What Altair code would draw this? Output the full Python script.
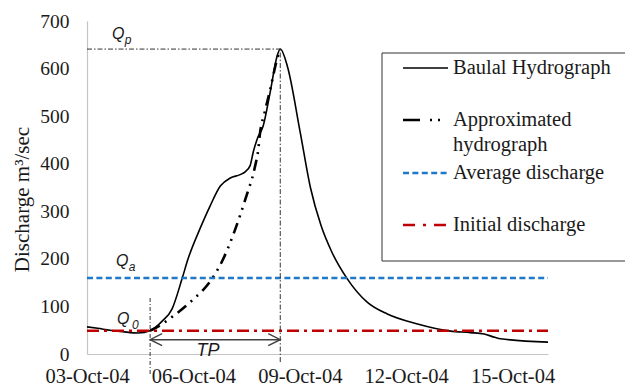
import altair as alt
import pandas as pd

# ---------------- data ----------------
obs_day = [0.0, 0.3, 0.65, 1.0, 1.44, 1.78, 2.12, 2.4, 2.68, 2.85, 3.19, 3.47, 3.76,
           4.04, 4.32, 4.46, 4.6, 4.69, 4.8, 4.97, 5.17, 5.36, 5.45, 5.65, 6.01, 6.3,
           6.6, 6.9, 7.34, 7.9, 8.47, 9.32, 10.25, 10.81, 11.2, 11.5, 11.66, 13.0]
obs_q = [57, 54, 50, 47, 44, 49, 69, 95, 158, 200, 264, 311, 353,
         370, 377, 383, 396, 425, 452, 480, 552, 626, 641, 605, 467, 350,
         270, 215, 158, 109, 84, 63, 48, 45, 42, 35, 32, 25]

apx_day = [1.78, 2.12, 2.4, 2.91, 3.56, 3.81, 4.12, 4.32, 4.55, 4.66, 4.74, 4.83,
           4.88, 5.0, 5.17, 5.36, 5.45]
apx_q = [49, 63, 78, 109, 162, 195, 250, 292, 345, 370, 395, 430,
         465, 505, 557, 620, 641]

avg_q = 160          # average discharge Qa
init_q = 49          # initial discharge Q0
peak_day = 5.45      # time of peak
peak_q = 641         # peak discharge Qp
tp_start = 1.78      # start of rising limb
x_max = 13

tick_days = [0, 3, 6, 9, 12]
tick_labels = ["03-Oct-04", "06-Oct-04", "09-Oct-04", "12-Oct-04", "15-Oct-04"]
y_ticks = [0, 100, 200, 300, 400, 500, 600, 700]

legend_names = ["Baulal Hydrograph", "Approximated\nhydrograph",
                "Average discharge", "Initial discharge"]

# ---------------- style ----------------
SERIF = "Liberation Serif"
SANS = "Liberation Sans"
TXT = "#1a1a1a"
BLUE = "#1f78c8"
RED = "#c00000"
AXC = "#c4c4c4"

label_expr = ""
for d, l in zip(tick_days, tick_labels):
    label_expr += f"datum.value == {d} ? '{l}' : "
label_expr += "''"

xs = alt.Scale(domain=[0, x_max], nice=False, zero=False)
ys = alt.Scale(domain=[0, 700], nice=False, zero=False)

x_axis = alt.Axis(values=tick_days, labelExpr=label_expr, labelFont=SERIF,
                  labelFontSize=20.5, labelColor=TXT, labelPadding=12, ticks=False,
                  tickSize=0, domainColor=AXC, domainWidth=1.2, grid=False,
                  labelFlush=False, labelOverlap=False)
y_axis = alt.Axis(values=y_ticks, title="Discharge m\u00b3/sec", labelFont=SERIF,
                  labelFontSize=19.5, labelColor=TXT, labelPadding=18, ticks=False,
                  tickSize=0, domainColor=AXC, domainWidth=1.2, grid=False,
                  titleFont=SERIF, titleFontSize=21, titleFontWeight="normal",
                  titleColor=TXT, titleX=-55, titleY=178)


def X(f="day"):
    return alt.X(f"{f}:Q", scale=xs, axis=x_axis, title=None)


def Y(f="q"):
    return alt.Y(f"{f}:Q", scale=ys, axis=y_axis)


obs_df = pd.DataFrame({"day": obs_day, "q": obs_q})
apx_df = pd.DataFrame({"day": apx_day, "q": apx_q})

layers = []

# observed hydrograph
layers.append(alt.Chart(obs_df).mark_line(color="black", strokeWidth=1.6,
                                          interpolate="monotone").encode(x=X(), y=Y()))
# approximated hydrograph
layers.append(alt.Chart(apx_df).mark_line(color="black", strokeWidth=2.6,
                                          strokeDash=[11, 6, 2, 6, 2, 6],
                                          interpolate="monotone").encode(x=X(), y=Y()))


def hrule(day0, day1, q, **kw):
    df = pd.DataFrame({"day": [day0], "day2": [day1], "q": [q]})
    return alt.Chart(df).mark_rule(**kw).encode(x=X(), x2=alt.X2("day2:Q"), y=Y())


def vrule(day, q0, q1, **kw):
    df = pd.DataFrame({"day": [day], "q": [q0], "q2": [q1]})
    return alt.Chart(df).mark_rule(**kw).encode(x=X(), y=Y(), y2=alt.Y2("q2:Q"))


# average and initial discharge
layers.append(hrule(0, x_max, avg_q, color=BLUE, strokeWidth=2.5, strokeDash=[6, 3.4]))
layers.append(hrule(0, x_max, init_q, color=RED, strokeWidth=2.5, strokeDash=[12, 5, 3, 5]))
# Qp guide and vertical guides
layers.append(hrule(0, peak_day, peak_q, color="#333333", strokeWidth=1,
                    strokeDash=[5, 2, 1.5, 2]))
layers.append(vrule(peak_day, -17, peak_q, color="#333333", strokeWidth=1,
                    strokeDash=[5, 2, 1.5, 2]))
layers.append(vrule(tp_start, -42, 120, color="#333333", strokeWidth=1,
                    strokeDash=[4, 2, 1, 2]))
# TP arrow
tp_y = 30
layers.append(hrule(tp_start, peak_day, tp_y, color="#404040", strokeWidth=1.4))
for d, shp in [(tp_start, "M1,-0.5L0,0L1,0.5"), (peak_day, "M-1,-0.5L0,0L-1,0.5")]:
    layers.append(alt.Chart(pd.DataFrame({"day": [d], "q": [tp_y]})).mark_point(
        shape=shp, size=576, filled=False, stroke="#404040", strokeWidth=1.4,
        opacity=1).encode(x=X(), y=Y()))


def label(txt, day, q, size, align="center"):
    df = pd.DataFrame({"day": [day], "q": [q], "t": [txt]})
    return alt.Chart(df).mark_text(font=SANS, fontStyle="italic", fontSize=size,
                                   color=TXT, align=align, baseline="middle").encode(
        x=X(), y=Y(), text="t:N")


layers.append(label("Q", 0.88, peak_q + 31, 16))
layers.append(label("p", 1.16, peak_q + 20, 12))
layers.append(label("Q", 0.99, avg_q + 35, 16))
layers.append(label("a", 1.27, avg_q + 22, 12))
layers.append(label("Q", 1.02, init_q + 25, 16))
layers.append(label("0", 1.36, init_q + 11, 12))
layers.append(label("TP", (tp_start + peak_day) / 2 - 0.2, 6, 18))

# ---------------- legend (drawn inside the plot) ----------------
one = pd.DataFrame({"a": [0]})
layers.append(alt.Chart(one).mark_rect(fill="white", stroke="#333333", strokeWidth=1).encode(
    x=alt.value(295), x2=alt.value(560), y=alt.value(32), y2=alt.value(240)))

sym_styles = [
    dict(color="black", strokeWidth=1.6),
    dict(color="black", strokeWidth=2.6, strokeDash=[17, 10, 2, 6, 2, 10]),
    dict(color=BLUE, strokeWidth=2.5, strokeDash=[6, 3.4]),
    dict(color=RED, strokeWidth=2.5, strokeDash=[12, 8, 3, 8]),
]
sym_y = [47, 99, 152, 204]
line_h = 25
for name, st, yy in zip(legend_names, sym_styles, sym_y):
    layers.append(alt.Chart(one).mark_rule(**st).encode(
        x=alt.value(316), x2=alt.value(361), y=alt.value(yy)))
    layers.append(alt.Chart(pd.DataFrame({"t": [name]})).mark_text(
        font=SERIF, fontSize=20.5, color=TXT, align="left", baseline="middle",
        lineBreak="\n", lineHeight=line_h).encode(
        x=alt.value(366), y=alt.value(yy), text="t:N"))

chart = alt.layer(*layers).properties(
    width=461, height=333,
    autosize=alt.AutoSizeParams(type="none"),
    padding={"left": 79, "top": 13, "right": 77, "bottom": 33},
).configure_view(stroke=None)

chart.save("out.html", embed_options={"renderer": "svg", "actions": False})
